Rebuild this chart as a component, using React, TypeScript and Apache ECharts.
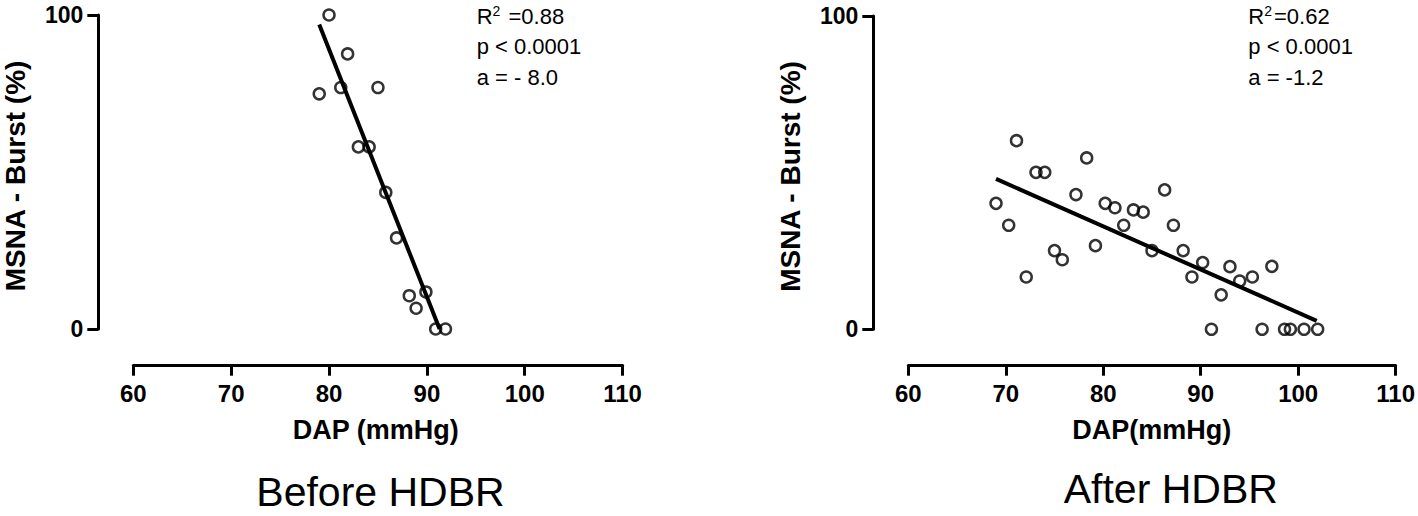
import React, { useEffect, useRef } from "react";
import * as echarts from "echarts";

// ---- Data ----
const xTicks = [60, 70, 80, 90, 100, 110];
const yTicks = [0, 100];

const beforeDAP = [80.0, 81.9, 79.0, 81.2, 85.0, 83.0, 84.1, 85.8, 86.9, 88.2, 89.9, 88.9, 90.9, 91.9];
const beforeMSNA = [100, 87.6, 74.9, 76.9, 76.9, 58.0, 58.0, 43.5, 29.0, 10.6, 11.8, 6.6, 0, 0];
const beforeFitX = [79.0, 91.3];
const beforeFitY = [97.0, 0];

const afterDAP = [
  69.0, 70.3, 71.1, 72.1, 73.1, 74.0, 75.0, 75.8, 77.2, 78.3, 79.2, 80.2, 81.2, 82.1, 83.1, 84.1, 85.0,
  86.3, 87.2, 88.2, 89.1, 90.2, 91.1, 92.1, 93.0, 94.0, 95.3, 97.3, 96.3, 98.6, 99.2, 100.6, 102.0,
];
const afterMSNA = [
  40.2, 33.2, 60.2, 16.7, 50.1, 50.1, 25.1, 22.2, 43.0, 54.7, 26.7, 40.2, 38.8, 33.2, 38.1, 37.4, 25.1,
  44.5, 33.2, 25.1, 16.7, 21.3, 0, 11.0, 20.0, 15.4, 16.7, 20.1, 0, 0, 0, 0, 0,
];
const afterFitX = [69.0, 101.9];
const afterFitY = [48.0, 2.7];

const statsBefore = ["=0.88", "p < 0.0001", "a = - 8.0"];
const statsAfter = ["=0.62", "p < 0.0001", "a = -1.2"];
const yTitle = "MSNA - Burst (%)";
const xTitleBefore = "DAP (mmHg)";
const xTitleAfter = "DAP(mmHg)";
const captionBefore = "Before HDBR";
const captionAfter = "After HDBR";

const FONT = "'Liberation Sans', Arial, sans-serif";

const pairs = (xs: number[], ys: number[]) => xs.map((x, i) => [x, ys[i]]);

export default function App() {
  const ref = useRef<HTMLDivElement>(null);
  useEffect(() => {
    if (!ref.current) return;
    const chart = echarts.init(ref.current, null, { renderer: "svg" });

    const xAxisBase = (gridIndex: number, offset: number) => ({
      type: "value" as const,
      gridIndex,
      min: xTicks[0],
      max: xTicks[xTicks.length - 1],
      interval: 10,
      offset,
      splitLine: { show: false },
      axisLine: { show: true, onZero: false, lineStyle: { color: "#000", width: 3 } },
      axisTick: { show: true, length: 10, lineStyle: { color: "#000", width: 3 } },
      axisLabel: {
        show: true,
        margin: 16,
        color: "#000",
        fontFamily: FONT,
        fontWeight: "bold" as const,
        fontSize: 24,
      },
    });
    const yAxisBase = (gridIndex: number) => ({
      type: "value" as const,
      gridIndex,
      min: yTicks[0],
      max: yTicks[yTicks.length - 1],
      interval: 100,
      offset: 35,
      splitLine: { show: false },
      axisLine: { show: true, onZero: false, lineStyle: { color: "#000", width: 3 } },
      axisTick: { show: true, length: 11, lineStyle: { color: "#000", width: 3 } },
      axisLabel: {
        show: true,
        margin: 15,
        color: "#000",
        fontFamily: FONT,
        fontWeight: "bold" as const,
        fontSize: 23,
      },
    });

    const scatterStyle = {
      symbol: "circle",
      symbolSize: 11,
      clip: false,
      itemStyle: { color: "rgba(0,0,0,0)", borderColor: "#000", borderWidth: 2.5 },
    };
    const lineStyle = {
      symbol: "none",
      clip: false,
      lineStyle: { color: "#000", width: 4 },
    };

    const statText = (x: number, lines: string[]) =>
      lines.map((t, i) => ({
        type: "text",
        x,
        y: 16 + i * 30.5,
        style: {
          text: i === 0 ? `{r|R}{s|2}{r|${lines === statsBefore ? " " : ""}${t}}` : t,
          fill: "#000",
          font: `22px ${FONT}`,
          verticalAlign: "middle",
          align: "left",
          rich: {
            r: { fontSize: 22, fontFamily: FONT, fill: "#000" },
            s: { fontSize: 14, fontFamily: FONT, fill: "#000", verticalAlign: "top", padding: [0, 2, 10, 0] },
          },
        },
      }));

    const txt = (x: number, y: number, text: string, size: number, bold: boolean, rotation = 0) => ({
      type: "text",
      x,
      y,
      rotation,
      style: {
        text,
        fill: "#000",
        font: `${bold ? "bold " : ""}${size}px ${FONT}`,
        align: "center",
        verticalAlign: "middle",
      },
    });

    chart.setOption({
      animation: false,
      backgroundColor: "#fff",
      grid: [
        { left: 133.3, top: 15, width: 489.3, height: 314 },
        { left: 908.3, top: 16, width: 489, height: 313.3 },
      ],
      xAxis: [xAxisBase(0, 36.7), xAxisBase(1, 36.4)],
      yAxis: [yAxisBase(0), yAxisBase(1)],
      series: [
        { type: "scatter", xAxisIndex: 0, yAxisIndex: 0, data: pairs(beforeDAP, beforeMSNA), ...scatterStyle },
        { type: "line", xAxisIndex: 0, yAxisIndex: 0, data: pairs(beforeFitX, beforeFitY), ...lineStyle },
        { type: "scatter", xAxisIndex: 1, yAxisIndex: 1, data: pairs(afterDAP, afterMSNA), ...scatterStyle },
        { type: "line", xAxisIndex: 1, yAxisIndex: 1, data: pairs(afterFitX, afterFitY), ...lineStyle },
      ],
      graphic: [
        txt(15, 176, yTitle, 28, true, Math.PI / 2),
        txt(790, 176.5, yTitle, 28, true, Math.PI / 2),
        txt(375.8, 430, xTitleBefore, 27, true),
        txt(1151.7, 430, xTitleAfter, 27, true),
        txt(380.5, 492, captionBefore, 41, false),
        txt(1170.8, 489, captionAfter, 41, false),
        ...statText(476.7, statsBefore),
        ...statText(1248.3, statsAfter),
      ],
    });
    return () => chart.dispose();
  }, []);
  return (
    <div
      ref={ref}
      style={{ position: "fixed", left: 0, top: 0, width: 1418, height: 516, background: "#fff" }}
    />
  );
}
